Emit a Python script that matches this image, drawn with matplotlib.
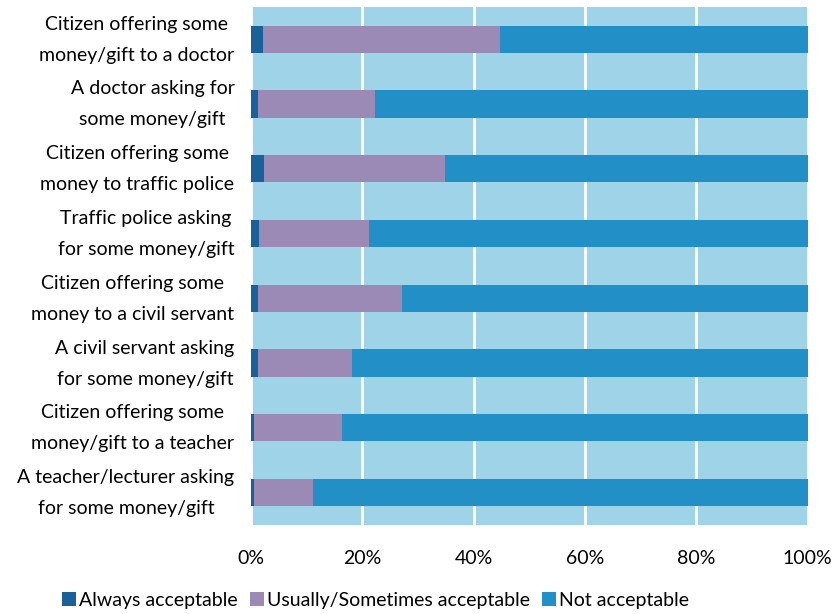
import numpy as np
import matplotlib.pyplot as plt
from matplotlib.transforms import ScaledTranslation

categories = [
    "Citizen offering some\nmoney/gift to a doctor",
    "A doctor asking for\nsome money/gift",
    "Citizen offering some\nmoney to traffic police",
    "Traffic police asking\nfor some money/gift",
    "Citizen offering some\nmoney to a civil servant",
    "A civil servant asking\nfor some money/gift",
    "Citizen offering some\nmoney/gift to a teacher",
    "A teacher/lecturer asking\nfor some money/gift",
]
always = [2.1, 1.2, 2.4, 1.5, 1.2, 1.2, 0.5, 0.5]
usually = [42.7, 21.0, 32.4, 19.6, 26.0, 16.9, 15.9, 10.7]
not_acc = [100 - a - u for a, u in zip(always, usually)]
series_names = ["Always acceptable", "Usually/Sometimes acceptable", "Not acceptable"]
colors = ["#1a6199", "#9b8ab5", "#238fc7"]

plt.rcParams["font.family"] = ["Lato", "DejaVu Sans"]

fig = plt.figure(figsize=(8.37, 6.14), dpi=100)
ax = fig.add_axes([0.300, 0.145, 0.665, 0.844])
ax.set_facecolor("#9fd3e7")

y = np.arange(len(categories))
left = np.zeros(len(categories))
for vals, name, c in zip([always, usually, not_acc], series_names, colors):
    ax.barh(y, vals, left=left, height=0.42, color=c, label=name, zorder=3)
    left += np.array(vals)

ax.set_xlim(0, 100)
ax.set_ylim(len(categories) - 0.5, -0.5)
ax.set_xticks([0, 20, 40, 60, 80, 100])
ax.set_xticklabels([f"{v}%" for v in [0, 20, 40, 60, 80, 100]], fontsize=14)
ax.set_yticks(y)
ax.set_yticklabels(categories, fontsize=14, linespacing=2.0, multialignment="center")
ax.tick_params(axis="x", length=0, pad=18)
ax.tick_params(axis="y", length=0, pad=12)
# nudge the two-line category labels up a little
shift = ScaledTranslation(0, 0.08, fig.dpi_scale_trans)
for lbl in ax.get_yticklabels():
    lbl.set_transform(lbl.get_transform() + shift)
ax.grid(axis="x", color="white", linewidth=2, zorder=1)
for s in ax.spines.values():
    s.set_visible(False)

fig.legend(loc="lower left", bbox_to_anchor=(0.053, -0.020), ncol=3, frameon=False,
           fontsize=14, handlelength=0.75, handleheight=0.75, handletextpad=0.15,
           columnspacing=0.6)

fig.savefig("out.png", dpi=100, facecolor="white")
